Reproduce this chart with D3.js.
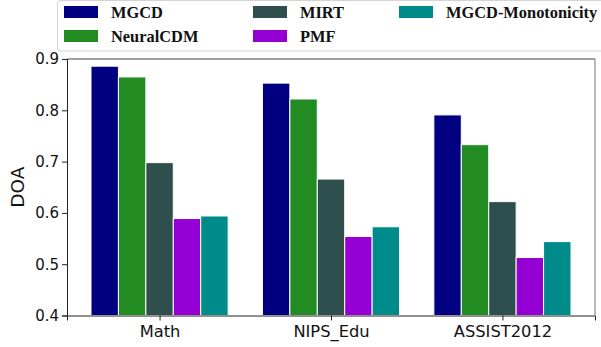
<!DOCTYPE html>
<html>
<head>
<meta charset="utf-8">
<script src="https://cdn.jsdelivr.net/npm/d3@7"></script>
<style>
  html, body { margin: 0; padding: 0; background: #fff; }
  svg { display: block; }
</style>
</head>
<body>
<svg id="chart" width="601" height="347"></svg>
<script>
const categories = ["Math", "NIPS_Edu", "ASSIST2012"];
const seriesNames = ["MGCD", "NeuralCDM", "MIRT", "PMF", "MGCD-Monotonicity"];
const seriesColors = ["#000080", "#228B22", "#2F4F4F", "#9400D3", "#008B8B"];
const MGCD = [0.886, 0.853, 0.791];
const NeuralCDM = [0.865, 0.822, 0.733];
const MIRT = [0.698, 0.666, 0.622];
const PMF = [0.589, 0.554, 0.513];
const MGCDMonotonicity = [0.594, 0.573, 0.544];
const yTicks = [0.4, 0.5, 0.6, 0.7, 0.8, 0.9];
const yLabel = "DOA";

const seriesValues = [MGCD, NeuralCDM, MIRT, PMF, MGCDMonotonicity];

const svg = d3.select("#chart");
const pL = 67, pR = 595, pT = 59, pB = 315.5;
const barW = 0.16;

const x = d3.scaleLinear().domain([-0.54, 2.54]).range([pL, pR]);
const y = d3.scaleLinear().domain([0.4, 0.9]).range([pB, pT]);

// bars
seriesValues.forEach((vals, si) => {
  svg.append("g").selectAll("rect").data(vals).join("rect")
    .attr("x", (d, i) => x(i + (si - 2) * barW - barW / 2))
    .attr("width", x(barW) - x(0))
    .attr("y", d => y(d))
    .attr("height", d => y(0.4) - y(d))
    .attr("fill", seriesColors[si])
    .attr("stroke", "#fff")
    .attr("stroke-width", 1);
});

// frame
svg.append("line").attr("x1", pL).attr("x2", pR).attr("y1", pT).attr("y2", pT)
  .attr("stroke", "#444").attr("stroke-width", 1);
svg.append("line").attr("x1", pR).attr("x2", pR).attr("y1", pT).attr("y2", pB)
  .attr("stroke", "#777").attr("stroke-width", 1);

// y axis
const yAxis = d3.axisLeft(y).tickValues(yTicks).tickFormat(d3.format(".1f")).tickSizeOuter(0).tickSize(5).tickPadding(3);
const gy = svg.append("g").attr("transform", `translate(${pL},0)`).call(yAxis);
gy.selectAll("text").attr("font-family", "DejaVu Sans").attr("font-size", "15px").attr("fill", "#111");
gy.selectAll("line").attr("stroke", "#222");
gy.select(".domain").attr("stroke", "#222");

// x axis
const xAxis = d3.axisBottom(x).tickValues([0, 1, 2]).tickFormat(i => categories[i]).tickSizeOuter(0).tickSize(5).tickPadding(4.5);
const gx = svg.append("g").attr("transform", `translate(0,${pB})`).call(xAxis);
gx.selectAll("text").attr("font-family", "DejaVu Sans").attr("font-size", "16.3px").attr("fill", "#111");
gx.selectAll("line").attr("stroke", "#222");
gx.select(".domain").attr("stroke", "#222");

// y label
svg.append("text")
  .attr("transform", `translate(24,${(pT + pB) / 2}) rotate(-90)`)
  .attr("text-anchor", "middle")
  .attr("font-family", "DejaVu Sans").attr("font-size", "18.5px").attr("fill", "#111")
  .text(yLabel);

// legend
const lg = svg.append("g");
lg.append("rect").attr("x", 57.5).attr("y", 0.5).attr("width", 560).attr("height", 50.5)
  .attr("rx", 3).attr("fill", "#fff").attr("fill-opacity", 0.8)
  .attr("stroke", "#d4d4d4").attr("stroke-width", 1);
const colX = [64, 253, 399];
const rowY = [6, 30];
seriesNames.forEach((name, i) => {
  const col = Math.floor(i / 2), row = i % 2;
  lg.append("rect").attr("x", colX[col]).attr("y", rowY[row]).attr("width", 34).attr("height", 12)
    .attr("fill", seriesColors[i]);
  lg.append("text").attr("x", colX[col] + 47).attr("y", rowY[row] + 12.3)
    .attr("font-family", "Liberation Serif").attr("font-weight", "bold").attr("font-size", "16.4px")
    .attr("fill", "#111").text(name);
});
</script>
</body>
</html>
